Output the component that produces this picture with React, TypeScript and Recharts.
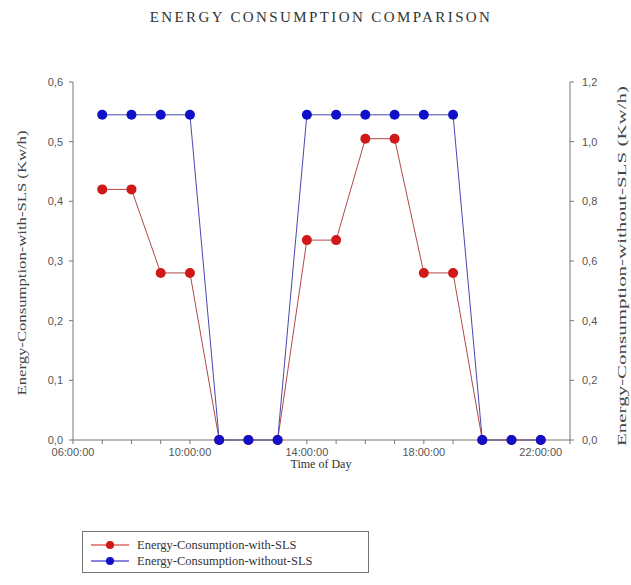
import { ComposedChart, Line, XAxis, YAxis, Label } from 'recharts'

// hours of the day where a reading was taken
const hours = [7, 8, 9, 10, 11, 12, 13, 14, 15, 16, 17, 18, 19, 20, 21, 22]
const withSLS = [0.42, 0.42, 0.28, 0.28, 0, 0, 0, 0.335, 0.335, 0.505, 0.505, 0.28, 0.28, 0, 0, 0]
const withoutSLS = [1.09, 1.09, 1.09, 1.09, 0, 0, 0, 1.09, 1.09, 1.09, 1.09, 1.09, 1.09, 0, 0, 0]

const hourTicks = [6, 7, 8, 9, 10, 11, 12, 13, 14, 15, 16, 17, 18, 19, 20, 21, 22, 23]
const labelledHours = [6, 10, 14, 18, 22]
const leftTicks = [0, 0.1, 0.2, 0.3, 0.4, 0.5, 0.6]
const rightTicks = [0, 0.2, 0.4, 0.6, 0.8, 1.0, 1.2]

const RED = '#d01818'
const BLUE = '#1010c8'
const AXIS = '#777'
const SERIF = '"Liberation Serif", "DejaVu Serif", serif'
const SANS = '"Liberation Sans", Arial, sans-serif'

const data = hours.map((h, i) => ({ hour: h, withSLS: withSLS[i], withoutSLS: withoutSLS[i] }))

const fmtHour = (h: number) =>
  labelledHours.includes(h) ? `${String(h).padStart(2, '0')}:00:00` : ''
const fmtComma = (v: number) => v.toFixed(1).replace('.', ',')

const tickStyle = { fontSize: 11, fill: '#555', fontFamily: SANS }

function VerticalLabel({ x, y, text, length }: { x: number; y: number; text: string; length: number }) {
  return (
    <text
      x={x}
      y={y}
      transform={`rotate(-90 ${x} ${y})`}
      textAnchor='middle'
      dominantBaseline='central'
      fontFamily={SERIF}
      fontSize={12.5}
      fill='#444'
      textLength={length}
      lengthAdjust='spacingAndGlyphs'
    >
      {text}
    </text>
  )
}

function LegendRow({ color, text }: { color: string; text: string }) {
  return (
    <div style={{ display: 'flex', alignItems: 'center', height: 16 }}>
      <svg width={40} height={12} style={{ marginRight: 8 }}>
        <line x1={2} x2={40} y1={6} y2={6} stroke={color} strokeWidth={1.2} />
        <circle cx={21} cy={6} r={4} fill={color} />
      </svg>
      <span>{text}</span>
    </div>
  )
}

export default function App() {
  return (
    <div style={{ position: 'absolute', left: 0, top: 0, width: 631, height: 585, background: '#fff' }}>
      <div
        style={{
          position: 'absolute',
          top: 9,
          left: 0,
          width: 642,
          textAlign: 'center',
          fontFamily: SERIF,
          fontSize: 15,
          letterSpacing: 2.4,
          color: '#333',
        }}
      >
        ENERGY CONSUMPTION COMPARISON
      </div>

      <ComposedChart width={631} height={500} data={data} margin={{ top: 82, right: 16, bottom: 30, left: 28 }}>
        <XAxis
          dataKey='hour'
          type='number'
          domain={[6, 23]}
          ticks={hourTicks}
          interval={0}
          tickFormatter={fmtHour}
          tick={tickStyle}
          tickSize={4}
          tickMargin={4}
          stroke={AXIS}
          height={30}
        >
          <Label
            content={() => (
              <text x={321} y={468} textAnchor='middle' fontFamily={SERIF} fontSize={12} fill='#333'>
                Time of Day
              </text>
            )}
          />
        </XAxis>
        <YAxis
          yAxisId='left'
          domain={[0, 0.6]}
          ticks={leftTicks}
          tickFormatter={fmtComma}
          tick={tickStyle}
          tickSize={4}
          tickMargin={6}
          stroke={AXIS}
          width={45}
        >
          <Label
            content={() => (
              <VerticalLabel x={22} y={263} length={265} text='Energy-Consumption-with-SLS (Kw/h)' />
            )}
          />
        </YAxis>
        <YAxis
          yAxisId='right'
          orientation='right'
          domain={[0, 1.2]}
          ticks={rightTicks}
          tickFormatter={fmtComma}
          tick={tickStyle}
          tickSize={4}
          tickMargin={8}
          stroke={AXIS}
          width={45}
        >
          <Label
            content={() => (
              <VerticalLabel x={622} y={266} length={360} text='Energy-Consumption-without-SLS (Kw/h)' />
            )}
          />
        </YAxis>
        <Line
          yAxisId='left'
          dataKey='withSLS'
          stroke='#b04848'
          strokeWidth={1}
          dot={{ r: 5, fill: RED, stroke: RED, strokeWidth: 0 }}
          activeDot={false}
          isAnimationActive={false}
        />
        <Line
          yAxisId='right'
          dataKey='withoutSLS'
          stroke='#4848b0'
          strokeWidth={1}
          dot={{ r: 5, fill: BLUE, stroke: BLUE, strokeWidth: 0 }}
          activeDot={false}
          isAnimationActive={false}
        />
      </ComposedChart>

      <div
        style={{
          position: 'absolute',
          left: 82,
          top: 531,
          width: 287,
          height: 42,
          border: `1px solid ${AXIS}`,
          boxSizing: 'border-box',
          padding: '5px 0 0 6px',
          fontFamily: SERIF,
          fontSize: 12.5,
          color: '#333',
          lineHeight: '16px',
        }}
      >
        <LegendRow color={RED} text='Energy-Consumption-with-SLS' />
        <LegendRow color={BLUE} text='Energy-Consumption-without-SLS' />
      </div>
    </div>
  )
}
